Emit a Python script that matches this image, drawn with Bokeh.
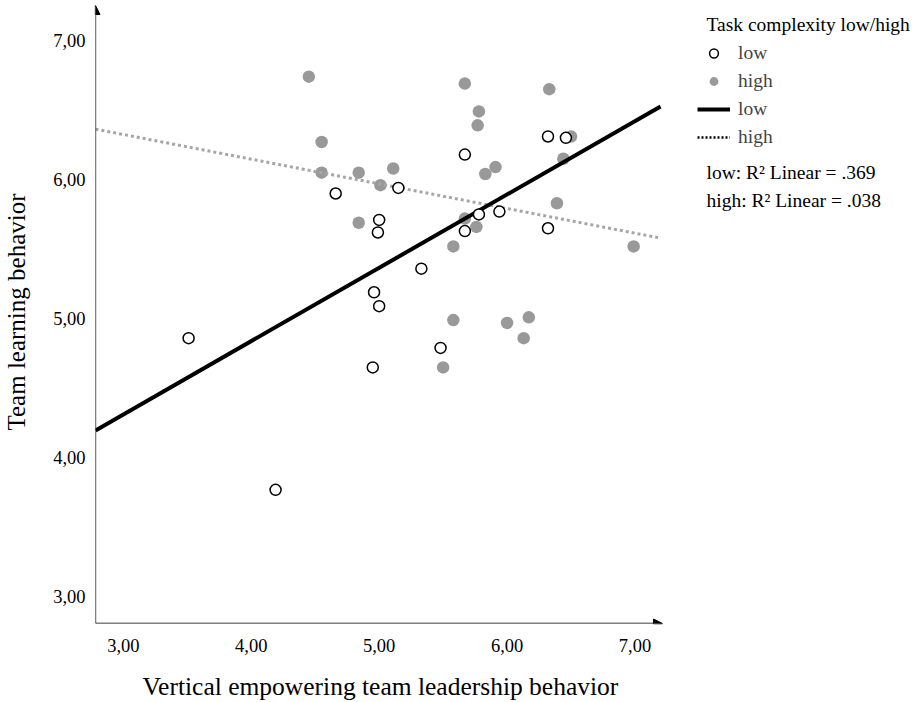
import numpy as np
from bokeh.plotting import figure
from bokeh.models import (Range1d, FixedTicker, Arrow, NormalHead, Legend,
                          LegendItem, Label, Title)
from bokeh.embed import file_html
from bokeh.resources import INLINE

# ---- data ----
low_x = [5.15, 4.66, 5.00, 4.99, 4.96, 5.00, 6.32, 6.46, 5.67, 5.94, 5.78,
         5.67, 6.32, 5.33, 5.48, 4.95, 3.51, 4.19]
low_y = [5.94, 5.90, 5.71, 5.62, 5.19, 5.09, 6.31, 6.30, 6.18, 5.77, 5.75,
         5.63, 5.65, 5.36, 4.79, 4.65, 4.86, 3.77]
high_x = [4.45, 4.55, 4.55, 4.84, 5.11, 5.01, 4.84, 5.67, 6.33, 5.78, 5.77,
          6.50, 6.44, 5.91, 5.83, 6.39, 5.67, 5.76, 5.58, 6.99, 5.58, 5.50,
          6.00, 6.17, 6.13]
high_y = [6.74, 6.27, 6.05, 6.05, 6.08, 5.96, 5.69, 6.69, 6.65, 6.49, 6.39,
          6.31, 6.15, 6.09, 6.04, 5.83, 5.72, 5.66, 5.52, 5.52, 4.99, 4.65,
          4.97, 5.01, 4.86]
low_fit = {"intercept": 2.731, "slope": 0.527}
high_fit = {"intercept": 6.856, "slope": -0.1773}
x_ticks = [3, 4, 5, 6, 7]
x_tick_labels = ["3,00", "4,00", "5,00", "6,00", "7,00"]
y_ticks = [3, 4, 5, 6, 7]
y_tick_labels = ["3,00", "4,00", "5,00", "6,00", "7,00"]
x_title = "Vertical empowering team leadership behavior"
y_title = "Team learning behavior"
legend_title = "Task complexity low/high"
legend_labels = ["low", "high", "low", "high"]
r2_texts = ["low: R\u00b2 Linear = .369", "high: R\u00b2 Linear = .038"]

FONT = "Liberation Serif"
x0, x1 = 2.782, 7.215   # drawn axis extent
y0, y1 = 2.809, 7.252
fit_x = [x0, 7.2]

p = figure(width=918, height=700,
           x_range=Range1d(x0, 9.217), y_range=Range1d(y0, 7.2875),
           output_backend="svg", toolbar_location=None,
           min_border_left=95, min_border_right=0, min_border_top=0,
           min_border_bottom=77)
p.outline_line_color = None
p.grid.visible = False

for ax, ticks, labels in ((p.xaxis[0], x_ticks, x_tick_labels),
                          (p.yaxis[0], y_ticks, y_tick_labels)):
    ax.ticker = FixedTicker(ticks=ticks)
    ax.major_label_overrides = {t: l for t, l in zip(ticks, labels)}
    ax.axis_line_color = None
    ax.major_tick_line_color = None
    ax.minor_tick_line_color = None
    ax.major_label_text_font = FONT
    ax.major_label_text_font_size = "18.5px"
    ax.major_label_text_color = "black"
p.xaxis.major_label_standoff = 9
p.yaxis.major_label_standoff = 4

p.yaxis.axis_label = y_title
p.yaxis.axis_label_text_font = FONT
p.yaxis.axis_label_text_font_size = "25px"
p.yaxis.axis_label_text_font_style = "normal"
p.yaxis.axis_label_text_color = "black"
p.yaxis.axis_label_standoff = 20

# small spacer below the tick labels, then the x title
p.add_layout(Title(text=" ", text_font_size="1px", standoff=12), "below")
p.add_layout(Title(text=x_title, align="left", offset=47, standoff=0,
                   text_font=FONT, text_font_size="25.5px",
                   text_font_style="normal", text_color="black"), "below")

# axes with arrow heads
for xe, ye in ((x1, y0), (x0, y1)):
    p.add_layout(Arrow(x_start=x0, y_start=y0, x_end=xe, y_end=ye,
                       line_color="black", line_width=1.3,
                       end=NormalHead(size=9, fill_color="black",
                                      line_color="black")))

high_r = p.scatter(high_x, high_y, marker="circle", size=12.5,
                   fill_color="#999999", line_color=None)

hy = [high_fit["intercept"] + high_fit["slope"] * v for v in fit_x]
ly = [low_fit["intercept"] + low_fit["slope"] * v for v in fit_x]
p.line(fit_x, hy, line_color="#a6a6a6", line_width=3, line_dash="3 3")
low_line = p.line(fit_x, ly, line_color="black", line_width=4)
high_leg = p.line([np.nan, np.nan], [np.nan, np.nan], line_color="black",
                  line_width=2.5, line_dash="2 2")

low_r = p.scatter(low_x, low_y, marker="circle", size=11,
                  fill_color="white", line_color="black", line_width=1.5)

legend = Legend(items=[LegendItem(label=legend_labels[0], renderers=[low_r]),
                       LegendItem(label=legend_labels[1], renderers=[high_r]),
                       LegendItem(label=legend_labels[2], renderers=[low_line]),
                       LegendItem(label=legend_labels[3], renderers=[high_leg])],
                location=(602, 475),
                label_text_font=FONT, label_text_font_size="19.5px",
                glyph_width=33, glyph_height=22, label_height=22,
                spacing=6, label_standoff=8, padding=0, margin=0,
                border_line_color=None, background_fill_alpha=0)
p.add_layout(legend, "center")

def add_text(txt, x, y, size):
    p.add_layout(Label(x=x, y=y, x_units="screen", y_units="screen",
                       text=txt, text_font=FONT, text_font_size=size,
                       text_baseline="middle", text_color="black"))

add_text(legend_title, 611, 599, "19.5px")
for txt, yy in zip(r2_texts, [451, 423]):
    add_text(txt, 611, yy, "19.5px")

open("out.html", "w").write(file_html(p, INLINE))
